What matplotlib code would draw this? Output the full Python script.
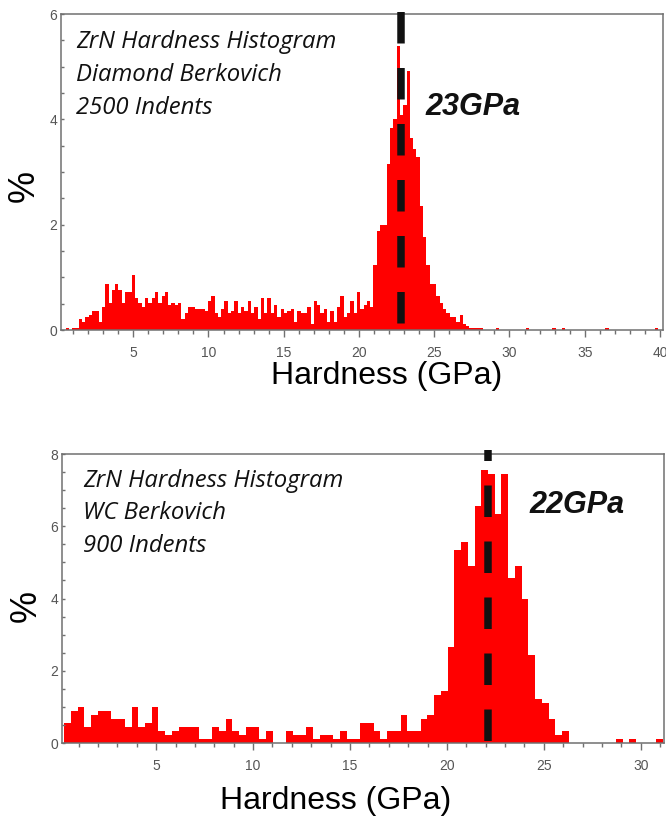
import matplotlib
matplotlib.use("Agg")
import matplotlib.pyplot as plt
import numpy as np
from matplotlib.ticker import MultipleLocator

RED = "#ff0000"; INK = "#111111"; FRAME = "#707070"; TICK = "#555555"
PX = 0.72  # points per pixel at dpi 100

plt.rcParams.update({"font.family": ["Liberation Sans", "DejaVu Sans"],
                     "lines.scale_dashes": False, "axes.linewidth": 1.1})

# top histogram: diamond Berkovich, 2500 indents, 0.22 GPa bins from 0.5 GPa
TOP_N = 2500
TOP_START, TOP_BIN, TOP_NBINS = 0.5, 0.22, 181
top_counts = [1, 0, 1, 1, 5, 4, 6, 7, 9, 9, 4, 11, 22, 13, 19, 22, 19, 13, 18, 18,
              26, 15, 13, 11, 15, 13, 15, 18, 13, 16, 18, 12, 13, 12, 13, 5, 8, 11, 11, 10,
              10, 10, 9,
              14, 16, 8, 6, 10, 14, 8, 9, 14, 8, 11, 9, 14, 8, 11, 5, 15, 8, 15, 8,
              12, 6, 10, 8, 9, 10, 4, 9, 8, 8, 11, 3, 14, 12, 8, 10, 4, 9, 4, 11,
              16, 6, 8, 14, 8,
              18, 10, 12, 14, 11, 31, 47, 50, 50, 79, 96, 100, 135, 102, 107, 123, 91, 86, 82, 59,
              44, 31, 22, 22, 16, 13, 10, 8, 6, 6, 4, 7, 3, 2, 1, 1, 1, 1]
top_outliers = [29.2, 31.1, 32.9, 33.7, 36.4, 39.8]   # single indents, GPa
top_peak = 22.8

# bottom histogram: WC Berkovich, 900 indents, 0.347 GPa bins from 0.258 GPa
BOT_N = 900
BOT_START, BOT_BIN = 0.258, 0.347
bot_counts = [5, 8, 9, 4, 7, 8, 8, 6, 6, 4, 9, 4, 5, 9, 3, 2, 3, 4, 4, 4,
              1, 1, 4, 3, 6, 3, 2, 4, 4, 1, 3, 0, 0, 3, 2, 2, 4, 1, 2, 2,
              1, 3, 1, 1, 5, 5, 3, 1, 3, 3, 7, 3, 3, 6, 7, 12, 13, 24, 48, 50,
              44, 59, 68, 67, 57, 67, 41, 44, 36, 22, 11, 10, 6, 2, 3, 0, 0, 0, 0, 0,
              0, 0, 1, 0, 1, 0, 0, 0, 1]
bot_peak = 22.13

top_lines = ["ZrN Hardness Histogram", "Diamond Berkovich", "2500 Indents"]
bot_lines = ["ZrN Hardness Histogram", "WC Berkovich", "900 Indents"]

NOTE_FONT = ["Open Sans", "DejaVu Sans"]
TICK_FONT = ["Liberation Sans Narrow", "Liberation Sans"]


def style(ax):
    for s in ax.spines.values():
        s.set_color(FRAME)
    ax.xaxis.set_major_locator(MultipleLocator(5))
    ax.xaxis.set_minor_locator(MultipleLocator(1))
    ax.yaxis.set_major_locator(MultipleLocator(2))
    ax.yaxis.set_minor_locator(MultipleLocator(0.5))
    ax.tick_params(axis="x", which="both", direction="out", color=FRAME, width=1,
                   labelsize=10, labelcolor=TICK, pad=9 * PX, labelfontfamily=TICK_FONT)
    ax.tick_params(axis="x", which="major", length=7 * PX)
    ax.tick_params(axis="x", which="minor", length=4 * PX)
    ax.tick_params(axis="y", which="both", direction="in", length=3 * PX, color=FRAME,
                   width=1, labelsize=10, labelcolor=TICK, pad=4 * PX,
                   labelfontfamily=TICK_FONT)


def dashed(ax, x, ytop, offset_px):
    ax.plot([x, x], [ytop, 0], color=INK, lw=7.5 * PX, clip_on=False, zorder=5,
            solid_capstyle="butt",
            linestyle=(offset_px * PX, (31.5 * PX, 24.5 * PX)))


def notes(ax, x, y0, step, lines):
    for i, t in enumerate(lines):
        ax.text(x, y0 - i * step, t, transform=ax.transAxes, style="italic",
                family=NOTE_FONT, fontsize=17.2, va="baseline", color=INK)


fig = plt.figure(figsize=(6.66, 8.21), dpi=100)

# ---- top panel
ax1 = fig.add_axes([61 / 666, 1 - 330 / 821, 602 / 666, 316 / 821])
tc = np.zeros(TOP_NBINS)
tc[:len(top_counts)] = top_counts
for h in top_outliers:
    tc[int((h - TOP_START) / TOP_BIN)] += 1
edges = TOP_START + TOP_BIN * np.arange(TOP_NBINS)
ax1.bar(edges, tc / TOP_N * 100, width=TOP_BIN, align="edge", color=RED, linewidth=0)
ax1.set_xlim(0.2, 40.2)
ax1.set_ylim(0, 6)
style(ax1)
dashed(ax1, top_peak, 6.04, 0)
notes(ax1, 0.025, 0.892, 0.104, top_lines)
ax1.text(0.605, 0.680, "23GPa", transform=ax1.transAxes, style="italic", weight="bold",
         fontsize=22, va="baseline", color=INK)

# ---- bottom panel
ax2 = fig.add_axes([62 / 666, 1 - 743 / 821, 602 / 666, 289 / 821])
bc = np.array(bot_counts, dtype=float)
edges = BOT_START + BOT_BIN * np.arange(len(bc))
ax2.bar(edges, bc / BOT_N * 100, width=BOT_BIN, align="edge", color=RED, linewidth=0)
ax2.set_xlim(0.14, 31.2)
ax2.set_ylim(0, 8)
style(ax2)
dashed(ax2, bot_peak, 8.12, 20.5)
notes(ax2, 0.035, 0.886, 0.1125, bot_lines)
ax2.text(0.777, 0.797, "22GPa", transform=ax2.transAxes, style="italic", weight="bold",
         fontsize=22, va="baseline", color=INK)

# axis titles, placed as in the original composite
fig.text(24 / 666, 1 - 186 / 821, "%", rotation=90, ha="center", va="center", fontsize=26)
fig.text(26 / 666, 1 - 606 / 821, "%", rotation=90, ha="center", va="center", fontsize=26)
fig.text(387 / 666, 1 - 376 / 821, "Hardness (GPa)", ha="center", va="center", fontsize=23)
fig.text(336 / 666, 1 - 801 / 821, "Hardness (GPa)", ha="center", va="center", fontsize=23)

fig.savefig("out.png", dpi=100)
